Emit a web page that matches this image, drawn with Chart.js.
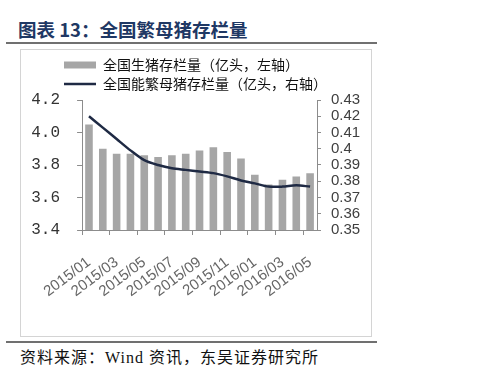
<!DOCTYPE html>
<html lang="zh">
<head>
  <meta charset="UTF-8">
  <title>全国繁母猪存栏量</title>
  <script src="https://cdn.jsdelivr.net/npm/chart.js"></script>
  <style>
    body { margin: 0; background: #fff; width: 499px; height: 387px; position: relative; overflow: hidden; }
    .title { position: absolute; left: 18px; top: 19px; font: 700 18.5px/20px "Noto Sans CJK SC", sans-serif; color: #1f3864; }
    .rule { position: absolute; left: 6px; width: 371px; height: 2px; background: #707070; }
    .box { position: absolute; left: 20px; top: 49px; width: 350px; height: 286px; border: 1px solid #d4d4d4; }
    .source { position: absolute; left: 20px; top: 349px; font: 16px/18px "Liberation Serif", "Noto Sans CJK SC", serif; letter-spacing: 1px; color: #111; }
    #wrap { position: absolute; left: 21px; top: 50px; width: 349px; height: 285px; }
  </style>
</head>
<body>
  <div class="title">图表 13：全国繁母猪存栏量</div>
  <div class="rule" style="top: 42px;"></div>
  <div class="box"></div>
  <div id="wrap"><canvas id="chart"></canvas></div>
  <div class="rule" style="top: 341px;"></div>
  <div class="source">资料来源：Wind 资讯，东吴证券研究所</div>

  <script>
    // 月份
    const months = ['2015/01', '2015/02', '2015/03', '2015/04', '2015/05', '2015/06', '2015/07', '2015/08',
      '2015/09', '2015/10', '2015/11', '2015/12', '2016/01', '2016/02', '2016/03', '2016/04', '2016/05'];
    // 全国生猪存栏量（亿头，左轴）
    const hogStock = [4.05, 3.90, 3.87, 3.87, 3.86, 3.85, 3.86, 3.87, 3.89, 3.91, 3.88, 3.84,
      3.74, 3.68, 3.71, 3.73, 3.75];
    // 全国能繁母猪存栏量（亿头，右轴）
    const sowStock = [0.420, 0.413, 0.406, 0.399, 0.393, 0.390, 0.388, 0.387, 0.386, 0.385, 0.383, 0.3805,
      0.3787, 0.3767, 0.3767, 0.3775, 0.3767];
    const leftTicks = [3.4, 3.6, 3.8, 4.0, 4.2];
    const rightTicks = [0.35, 0.36, 0.37, 0.38, 0.39, 0.40, 0.41, 0.42, 0.43];

    // 图例整体右移/下移，对齐参考图
    const legendShift = {
      id: 'legendShift',
      beforeDraw(chart) {
        chart.legend.left = 38;
        chart.legend.top = 3;
      }
    };

    const ctx = document.getElementById('chart').getContext('2d');

    new Chart(ctx, {
      data: {
        labels: months,
        datasets: [{
          type: 'bar',
          label: '全国生猪存栏量（亿头，左轴）',
          data: hogStock,
          backgroundColor: '#a6a6a6',
          categoryPercentage: 1,
          barPercentage: 0.55,
          pointStyle: 'rect',
          yAxisID: 'y',
          order: 1
        }, {
          type: 'line',
          label: '全国能繁母猪存栏量（亿头，右轴）',
          data: sowStock,
          borderColor: '#1f2a44',
          backgroundColor: '#1f2a44',
          borderWidth: 2.5,
          pointRadius: 0,
          pointStyle: 'line',
          tension: 0.3,
          yAxisID: 'y1',
          order: 0
        }]
      },
      options: {
        responsive: true,
        maintainAspectRatio: false,
        animation: false,
        layout: { padding: { top: 2, left: 0, right: 0, bottom: 0 } },
        scales: {
          x: {
            afterFit: s => { s.height = 105; },
            grid: {
              offset: true,
              drawOnChartArea: false,
              tickLength: 5,
              color: ctx => ctx.index % 2 === 0 ? '#8c8c8c' : 'rgba(0,0,0,0)'
            },
            border: { color: '#8c8c8c' },
            ticks: {
              autoSkip: false,
              maxRotation: 37,
              minRotation: 37,
              padding: 23,
              color: '#666',
              font: { family: 'Liberation Sans', size: 15, lineHeight: 0.45 },
              callback: (v, i) => i % 2 === 0 ? months[i] : ''
            }
          },
          y: {
            position: 'left',
            min: 3.4,
            max: 4.2,
            afterFit: s => { s.width = 57; },
            afterBuildTicks: s => { s.ticks = leftTicks.map(v => ({ value: v })); },
            grid: { drawOnChartArea: false, tickLength: 5, color: '#8c8c8c' },
            border: { color: '#8c8c8c' },
            ticks: {
              autoSkip: false,
              padding: 17,
              color: '#333',
              font: { family: 'Liberation Mono', size: 16 },
              callback: v => v.toFixed(1)
            }
          },
          y1: {
            position: 'right',
            min: 0.35,
            max: 0.43,
            afterFit: s => { s.width = 53; },
            afterBuildTicks: s => { s.ticks = rightTicks.map(v => ({ value: v })); },
            grid: { drawOnChartArea: false, tickLength: 4, color: '#8c8c8c' },
            border: { color: '#8c8c8c' },
            ticks: {
              autoSkip: false,
              padding: 10,
              color: '#404040',
              font: { family: 'Liberation Sans', size: 15 },
              callback: v => String(Number(v.toFixed(2)))
            }
          }
        },
        plugins: {
          legend: {
            position: 'top',
            align: 'start',
            labels: {
              usePointStyle: true,
              pointStyleWidth: 32,
              boxHeight: 7,
              padding: 5,
              color: '#111',
              font: { family: 'Noto Sans CJK SC', size: 14 },
              sort: (a, b) => a.datasetIndex - b.datasetIndex
            }
          },
          tooltip: { enabled: false }
        }
      },
      plugins: [legendShift]
    });
  </script>
</body>
</html>
